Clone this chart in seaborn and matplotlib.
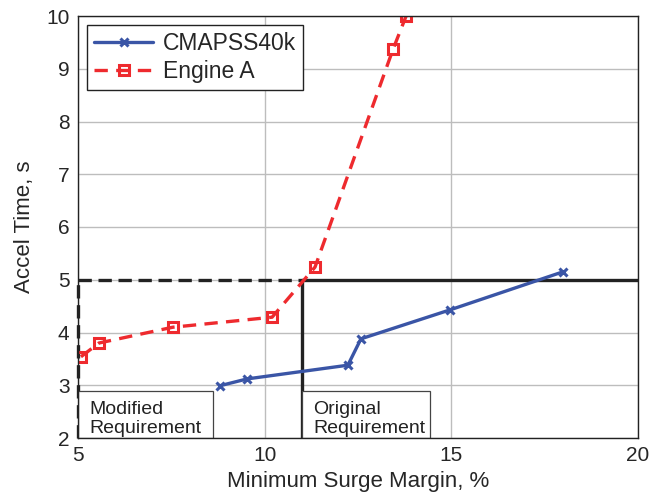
import numpy as np
import matplotlib

matplotlib.use('Agg')
import matplotlib.pyplot as plt
from matplotlib.patches import Rectangle
import seaborn as sns

# Data
cmapss_margin = [8.80, 9.53, 12.23, 12.58, 14.97, 17.99]
cmapss_accel = [2.99, 3.12, 3.38, 3.88, 4.43, 5.15]

engine_a_margin = [5.08, 5.56, 7.54, 10.2, 11.35, 13.44, 13.79]
engine_a_accel = [3.54, 3.80, 4.10, 4.29, 5.24, 9.37, 10.0]

accel_req = 5.0
original_margin_req = 11.0
modified_margin_req = 5.0

sns.set_style('white')
plt.rcParams['font.family'] = ['Liberation Sans', 'DejaVu Sans']

fig = plt.figure(figsize=(6.55, 5.0), dpi=100)
ax = fig.add_axes([0.119, 0.124, 0.855, 0.844])

blue = '#3a55a6'
red = '#ee2a2e'
dark = '#222222'

sns.lineplot(x=cmapss_margin, y=cmapss_accel, ax=ax, color=blue, linewidth=2.4,
             marker='x', markersize=6, markeredgewidth=2.2, markeredgecolor=blue,
             label='CMAPSS40k', sort=False)
sns.lineplot(x=engine_a_margin, y=engine_a_accel, ax=ax, color=red, linewidth=2.4,
             linestyle='--', marker='s', markersize=7, markerfacecolor='none',
             markeredgewidth=2.2, markeredgecolor=red, label='Engine A', sort=False)
ax.lines[1].set_dashes([4, 2.5])

# requirement boundaries
ax.plot([modified_margin_req, original_margin_req], [accel_req, accel_req],
        color=dark, linewidth=2.4, linestyle=(0, (4, 2)), zorder=1.5)
ax.plot([modified_margin_req, modified_margin_req], [2, accel_req],
        color=dark, linewidth=2.4, linestyle=(0, (4, 2)), zorder=1.5, clip_on=False)
ax.plot([original_margin_req, 20], [accel_req, accel_req],
        color=dark, linewidth=2.4, zorder=1.5)
ax.plot([original_margin_req, original_margin_req], [2, accel_req],
        color=dark, linewidth=2.4, zorder=1.5)

# label boxes for the two requirement regions
for x0, x1, txt in [(modified_margin_req, 8.62, 'Modified\nRequirement'),
                    (original_margin_req, 14.43, 'Original\nRequirement')]:
    ax.add_patch(Rectangle((x0, 2), x1 - x0, 0.89, facecolor='white',
                           edgecolor='#444444', linewidth=0.9, zorder=2))
    ax.text(x0 + 0.3, 2.02, txt, fontsize=14, color=dark, va='bottom', ha='left',
            linespacing=1.15, zorder=3)

ax.set_xlim(5, 20)
ax.set_ylim(2, 10)
ax.set_xticks([5, 10, 15, 20])
ax.set_yticks(np.arange(2, 11, 1))
ax.grid(True, color='#bdbdbd', linewidth=1.0)
ax.set_axisbelow(True)
ax.tick_params(direction='in', labelsize=15, length=4, color=dark, pad=6)
for s in ax.spines.values():
    s.set_color(dark)
    s.set_linewidth(1.0)

ax.set_xlabel('Minimum Surge Margin, %', fontsize=16, labelpad=4)
ax.set_ylabel('Accel Time, s', fontsize=16, labelpad=8)

leg = ax.legend(loc='upper left', bbox_to_anchor=(0.016, 0.979), borderaxespad=0,
                fontsize=16.5, frameon=True, fancybox=False, framealpha=1,
                edgecolor=dark, handlelength=2.6, borderpad=0.3,
                labelspacing=0.25, handletextpad=0.4)
leg.get_frame().set_linewidth(1.0)

fig.savefig('out.png', dpi=100)
